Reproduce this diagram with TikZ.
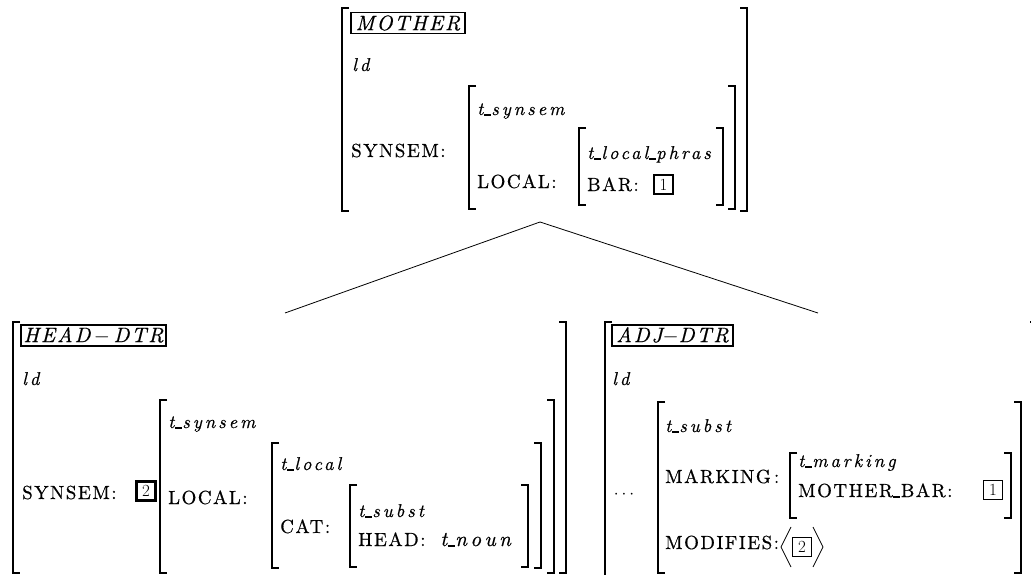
\documentclass[tikz,border=0pt]{standalone}
\usepackage{fontspec}
\usepackage{tikz}
\newfontfamily\avmrm[LetterSpace=8, FakeBold=0.5]{lmroman10-regular.otf}
\newfontfamily\avmit[LetterSpace=16, FakeBold=0.5]{lmroman10-italic.otf}
\newfontfamily\avmsort[LetterSpace=9, FakeBold=0.5]{lmroman10-italic.otf}
\newcommand{\avmus}{\kern0.5pt\rule[-0.8pt]{7pt}{2pt}\kern0.5pt}
\newcommand{\avmbrackets}[4]{%
  \draw[brk] (#1+7,#3) -- (#1,#3) -- (#1,#4) -- (#1+7,#4);
  \draw[brk] (#2-7,#3) -- (#2,#3) -- (#2,#4) -- (#2-7,#4);}

\begin{document}
\begin{tikzpicture}[x=1pt, y=-1pt,
    brk/.style={line width=2.2pt},
    lab/.style={anchor=base west, inner sep=0pt, font=\avmrm\fontsize{19}{21}\selectfont},
    typ/.style={anchor=base west, inner sep=0pt, font=\avmit\fontsize{18.5}{20}\selectfont},
    sortbox/.style={draw, line width=1.6pt, inner sep=1pt, minimum height=21pt,
                    font=\avmsort\fontsize{21}{22}\selectfont},
    tag/.style={draw, line width=1.6pt, inner sep=0pt, minimum size=19pt,
                font=\fontsize{17}{17}\selectfont},
    tree/.style={line width=0.8pt}
]
\useasboundingbox (0,0) rectangle (1031,575);

% mother
\avmbrackets{342}{747}{8}{211}
\avmbrackets{469}{735}{86}{209}
\avmbrackets{579}{723}{128}{205}
\node[sortbox, minimum width=114pt] (mother) at (408,23) {MOTHER};
\node[typ] (mLd)  at (352,71)  {ld};
\node[lab] (mSyn) at (351,157) {SYNSEM:};
\node[typ] (mTs)  at (477,115) {t\avmus synsem};
\node[lab] (mLoc) at (477,188) {LOCAL:};
\node[typ] (mTl)  at (587,159) {t\avmus local\avmus phras};
\node[lab] (mBar) at (587,191) {BAR:};
\node[tag] (mT1)  at (663.5,184.5) {1};

% tree
\coordinate (apex) at (540,222);
\coordinate (hdTop) at (285,313);
\coordinate (adTop) at (818,313);
\draw[tree] (apex) -- (hdTop);
\draw[tree] (apex) -- (adTop);

% head daughter
\avmbrackets{13}{566}{322}{573}
\avmbrackets{160}{554}{400}{573}
\avmbrackets{272}{541}{443}{568}
\avmbrackets{350}{528}{485}{567}
\node[sortbox, minimum width=145pt] (headdtr) at (93.5,335.5) {HEAD\,$-$\,DTR};
\node[typ] (hLd)  at (22,385)  {ld};
\node[lab] (hSyn) at (22,499)  {SYNSEM:};
\node[tag, line width=2.2pt] (hT2)  at (146,491) {2};
\node[typ] (hTs)  at (168,428) {t\avmus synsem};
\node[lab] (hLoc) at (168,504) {LOCAL:};
\node[typ] (hTl)  at (280,470) {t\avmus local};
\node[lab] (hCat) at (280,533) {CAT:};
\node[typ] (hTsub) at (358,517) {t\avmus subst};
\node[lab] (hHead) at (358,546) {HEAD:};
\node[typ, font=\avmit\fontsize{21}{24}\selectfont] (hNoun) at (440,546) {t\avmus noun};

% adjunct daughter
\avmbrackets{605}{1037}{322}{580}
\avmbrackets{658}{1021}{402}{573}
\avmbrackets{790}{1011}{453}{518}
\node[sortbox, minimum width=121pt] (adjdtr) at (672.5,335.5) {ADJ$-$DTR};
\node[typ] (aLd)   at (612,385) {ld};
\node[inner sep=0pt, font=\fontsize{18}{20}\selectfont] (aDots) at (624,495) {$\cdots$};
\node[typ] (aTsub) at (665,432) {t\avmus subst};
\node[lab] (aMark) at (665,483) {MARKING\,:};
\node[typ] (aTm)   at (798,467) {t\avmus marking};
\node[lab] (aMb)   at (798,497) {MOTHER\avmus BAR:};
\node[tag] (aT1)   at (993,490) {1};
\node[lab] (aMod)  at (665,549) {MODIFIES:};
\node[tag] (aT2)   at (802,547) {2};
\draw[tree] (791,527) -- (781,547) -- (791,567);
\draw[tree] (813,527) -- (823,547) -- (813,567);
\end{tikzpicture}
\end{document}
